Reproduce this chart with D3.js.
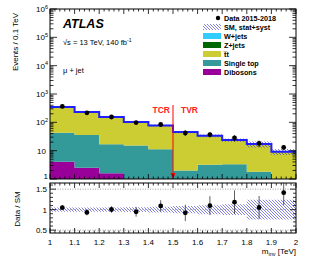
<!DOCTYPE html>
<html>
<head>
<meta charset="utf-8">
<script src="https://cdn.jsdelivr.net/npm/d3@7"></script>
<style>
  body { margin: 0; background: #fff; }
  text { font-family: "Liberation Sans", Arial, Helvetica, sans-serif; }
</style>
</head>
<body>
<div id="chart"></div>
<script>
// bin edges (TeV)
var binLow = [1.0, 1.1, 1.2, 1.3, 1.4, 1.5, 1.6, 1.7, 1.8, 1.9];
var binWidth = 0.1;

// backgrounds, stacked bottom -> top
var dibosons  = [4.1, 2.5, 1.6, 0.8, 0.6, 0.4, 0.4, 0.3, 0.2, 0.2];
var singleTop = [39, 33, 15.3, 14.4, 10.6, 1.6, 2.8, 3.0, 1.6, 0.6];
var ttbar     = [302, 194, 135, 87, 65, 43, 30, 20, 15, 8.2];
var zjets     = [1.0, 0.8, 0.5, 0.4, 0.3, 0.2, 0.2, 0.1, 0.1, 0.1];
var wjets     = [2.2, 1.6, 1.1, 0.8, 0.6, 0.4, 0.3, 0.3, 0.2, 0.1];

// data and uncertainties
var dataCounts = [365, 216, 154, 98, 84, 42, 37, 28, 18, 13];
var ratioErr   = [0.06, 0.07, 0.08, 0.12, 0.14, 0.2, 0.23, 0.29, 0.28, 0.3];
var smRelUnc   = [0.05, 0.05, 0.05, 0.06, 0.07, 0.09, 0.11, 0.13, 0.24, 0.24];

var xTicks = [1, 1.1, 1.2, 1.3, 1.4, 1.5, 1.6, 1.7, 1.8, 1.9, 2];
var yExps = [0, 1, 2, 3, 4, 5, 6];
var ratioTicks = [0.5, 1, 1.5];

var samples = [
    {name: "Dibosons", values: dibosons, color: "#990099"},
    {name: "Single top", values: singleTop, color: "#339999"},
    {name: "t\u0305t", values: ttbar, color: "#cccc33"},
    {name: "Z+jets", values: zjets, color: "#006600"},
    {name: "W+jets", values: wjets, color: "#33ccff"}
];

var W = 316, H = 260;
var left = 50, right = 296;
var mainTop = 9, mainBottom = 179;
var ratTop = 183, ratBottom = 233;
var font = "'Liberation Sans', Arial, Helvetica, sans-serif";

var svg = d3.select("#chart").append("svg")
    .attr("width", W).attr("height", H);

var defs = svg.append("defs");
var hatch = defs.append("pattern")
    .attr("id", "hatch")
    .attr("patternUnits", "userSpaceOnUse")
    .attr("width", 3).attr("height", 3);
hatch.append("path")
    .attr("d", "M-1,-1 L4,4 M-1,2 L1,4 M2,-1 L4,1")
    .attr("stroke", "#3333cc").attr("stroke-width", 0.6);

defs.append("clipPath").attr("id", "clipMain")
    .append("rect").attr("x", left).attr("y", mainTop)
    .attr("width", right - left).attr("height", mainBottom - mainTop);
defs.append("clipPath").attr("id", "clipRat")
    .append("rect").attr("x", left).attr("y", ratTop)
    .attr("width", right - left).attr("height", ratBottom - ratTop);

var x = d3.scaleLinear().domain([1, 2]).range([left, right]);
var y = d3.scaleLog().domain([1, 1e6]).range([mainBottom, mainTop]).clamp(true);
var yr = d3.scaleLinear().domain([0.43, 1.65]).range([ratBottom, ratTop]);

// build stack
var cum = binLow.map(function() { return 0; });
var stacked = samples.map(function(s) {
    var lo = cum.slice();
    cum = cum.map(function(c, i) { return c + s.values[i]; });
    return {sample: s, lo: lo, hi: cum.slice()};
});
var total = cum;

function stepArea(lo, hi, yScale) {
    var d = "";
    binLow.forEach(function(b, i) {
        var x0 = x(b), x1 = x(b + binWidth);
        var y0 = yScale(Math.max(lo[i], 1e-3)), y1 = yScale(Math.max(hi[i], 1e-3));
        d += "M" + x0 + "," + y0 + "H" + x1 + "V" + y1 + "H" + x0 + "Z";
    });
    return d;
}

var gMain = svg.append("g").attr("clip-path", "url(#clipMain)");

stacked.forEach(function(st) {
    gMain.append("path")
        .attr("d", stepArea(st.lo.map(function(v) { return Math.max(v, 0.01); }), st.hi, y))
        .attr("fill", st.sample.color)
        .attr("stroke", "none");
});

// SM band in main panel
gMain.append("path")
    .attr("d", stepArea(total.map(function(t, i) { return t * (1 - smRelUnc[i]); }),
                        total.map(function(t, i) { return t * (1 + smRelUnc[i]); }), y))
    .attr("fill", "url(#hatch)");

// total SM line
var totLine = "";
binLow.forEach(function(b, i) {
    totLine += (i === 0 ? "M" : "L") + x(b) + "," + y(total[i]) + "H" + x(b + binWidth);
});
gMain.append("path").attr("d", totLine)
    .attr("fill", "none").attr("stroke", "#1f1fff").attr("stroke-width", 2);

// data points
gMain.selectAll(".derr").data(binLow).enter().append("line")
    .attr("x1", function(b) { return x(b + binWidth / 2); })
    .attr("x2", function(b) { return x(b + binWidth / 2); })
    .attr("y1", function(b, i) { return y(dataCounts[i] * (1 - ratioErr[i] / (dataCounts[i] / total[i]))); })
    .attr("y2", function(b, i) { return y(dataCounts[i] * (1 + ratioErr[i] / (dataCounts[i] / total[i]))); })
    .attr("stroke", "#000").attr("stroke-width", 0.8);
gMain.selectAll(".dpt").data(binLow).enter().append("circle")
    .attr("cx", function(b) { return x(b + binWidth / 2); })
    .attr("cy", function(b, i) { return y(dataCounts[i]); })
    .attr("r", 2.4).attr("fill", "#000");

// TCR / TVR boundary
svg.append("line")
    .attr("x1", x(1.5)).attr("x2", x(1.5))
    .attr("y1", 105).attr("y2", mainBottom - 3)
    .attr("stroke", "#ff0000").attr("stroke-width", 1);
svg.append("path")
    .attr("d", "M" + (x(1.5) - 2.5) + "," + (mainBottom - 6) + "L" + (x(1.5) + 2.5) + "," + (mainBottom - 6) + "L" + x(1.5) + "," + mainBottom + "Z")
    .attr("fill", "#ff0000");
svg.append("text").attr("x", x(1.5) - 3).attr("y", 113)
    .attr("text-anchor", "end").attr("font-size", 8.5).attr("font-weight", "bold")
    .attr("fill", "#ff2020").text("TCR");
svg.append("text").attr("x", x(1.5) + 8).attr("y", 113)
    .attr("font-size", 8.5).attr("font-weight", "bold")
    .attr("fill", "#ff2020").text("TVR");

// ratio panel
var gRat = svg.append("g").attr("clip-path", "url(#clipRat)");
gRat.append("path")
    .attr("d", stepArea(smRelUnc.map(function(u) { return 1 - u; }),
                        smRelUnc.map(function(u) { return 1 + u; }), yr))
    .attr("fill", "url(#hatch)");
ratioTicks.forEach(function(t) {
    gRat.append("line").attr("x1", left).attr("x2", right)
        .attr("y1", yr(t)).attr("y2", yr(t))
        .attr("stroke", "#888").attr("stroke-width", 0.8)
        .attr("stroke-dasharray", "1,1.5");
});
var ratio = dataCounts.map(function(d, i) { return d / total[i]; });
gRat.selectAll(".rerr").data(binLow).enter().append("line")
    .attr("x1", function(b) { return x(b + binWidth / 2); })
    .attr("x2", function(b) { return x(b + binWidth / 2); })
    .attr("y1", function(b, i) { return yr(ratio[i] - ratioErr[i]); })
    .attr("y2", function(b, i) { return yr(ratio[i] + ratioErr[i]); })
    .attr("stroke", "#333").attr("stroke-width", 0.8);
gRat.selectAll(".rpt").data(binLow).enter().append("circle")
    .attr("cx", function(b) { return x(b + binWidth / 2); })
    .attr("cy", function(b, i) { return yr(ratio[i]); })
    .attr("r", 2.4).attr("fill", "#000");

// frames and ticks
function frame(top, bottom) {
    svg.append("rect").attr("x", left).attr("y", top)
        .attr("width", right - left).attr("height", bottom - top)
        .attr("fill", "none").attr("stroke", "#000").attr("stroke-width", 1);
}
frame(mainTop, mainBottom);
frame(ratTop, ratBottom);

var ticks = svg.append("g").attr("stroke", "#000").attr("stroke-width", 0.8);
function xTicksFor(top, bottom, maj, min) {
    d3.range(0, 51).forEach(function(k) {
        var v = 1 + k * 0.02;
        var len = (k % 5 === 0) ? maj : min;
        ticks.append("line").attr("x1", x(v)).attr("x2", x(v))
            .attr("y1", bottom).attr("y2", bottom - len);
        ticks.append("line").attr("x1", x(v)).attr("x2", x(v))
            .attr("y1", top).attr("y2", top + len);
    });
}
xTicksFor(mainTop, mainBottom, 5, 2.5);
xTicksFor(ratTop, ratBottom, 5, 2.5);

// log y ticks
yExps.forEach(function(e) {
    for (var m = 1; m <= 9; m++) {
        var v = m * Math.pow(10, e);
        if (v > 1e6) break;
        var len = (m === 1) ? 7 : 3.5;
        ticks.append("line").attr("x1", left).attr("x2", left + len)
            .attr("y1", y(v)).attr("y2", y(v));
        ticks.append("line").attr("x1", right).attr("x2", right - len)
            .attr("y1", y(v)).attr("y2", y(v));
    }
});
// ratio y ticks
d3.range(5, 17).forEach(function(k) {
    var v = k / 10;
    var len = (k % 5 === 0) ? 6 : 3;
    ticks.append("line").attr("x1", left).attr("x2", left + len)
        .attr("y1", yr(v)).attr("y2", yr(v));
    ticks.append("line").attr("x1", right).attr("x2", right - len)
        .attr("y1", yr(v)).attr("y2", yr(v));
});

// y labels main
yExps.forEach(function(e) {
    var yy = y(Math.pow(10, e)) + 3;
    if (e === 0) yy -= 3;
    var t = svg.append("text").attr("y", yy).attr("font-size", 8)
        .attr("text-anchor", "end");
    if (e === 0) { t.attr("x", 48).text("1"); }
    else if (e === 1) { t.attr("x", 46).text("10"); }
    else {
        t.attr("x", 48);
        t.append("tspan").text("10");
        t.append("tspan").attr("dy", -3.5).attr("font-size", 5.5).text(e);
    }
});
// ratio y labels
ratioTicks.forEach(function(t) {
    svg.append("text").attr("x", 47).attr("y", yr(t) + 3)
        .attr("font-size", 8).attr("text-anchor", "end")
        .text(t === 1 ? "1" : t);
});
// x labels
xTicks.forEach(function(t) {
    svg.append("text").attr("x", x(t)).attr("y", 245)
        .attr("font-size", 8).attr("text-anchor", "middle")
        .text(t === 1 || t === 2 ? t : t.toFixed(1));
});
var xt = svg.append("text").attr("x", right).attr("y", 254)
    .attr("font-size", 8).attr("text-anchor", "end");
xt.append("tspan").text("m");
xt.append("tspan").attr("dy", 1.8).attr("font-size", 5.5).text("inv");
xt.append("tspan").attr("dy", -1.8).text(" [TeV]");

// axis titles
svg.append("text").attr("transform", "translate(18,13) rotate(-90)")
    .attr("font-size", 8).attr("text-anchor", "end").text("Events / 0.1 TeV");
svg.append("text").attr("transform", "translate(20,209) rotate(-90)")
    .attr("font-size", 8).attr("text-anchor", "middle").text("Data / SM");

// labels
svg.append("text").attr("x", 63).attr("y", 28)
    .attr("font-size", 12.5).attr("font-weight", "bold").attr("font-style", "italic")
    .text("ATLAS");
var sq = svg.append("text").attr("x", 63).attr("y", 45).attr("font-size", 7.5);
sq.append("tspan").text("\u221As = 13 TeV, 140 fb");
sq.append("tspan").attr("dy", -3).attr("font-size", 5).text("-1");
svg.append("text").attr("x", 63).attr("y", 73).attr("font-size", 7.5)
    .text("\u03bc + jet");

// legend
var legItems = [
    {name: "Data 2015-2018", type: "data"},
    {name: "SM, stat+syst", type: "band"},
    {name: "W+jets", color: "#33ccff"},
    {name: "Z+jets", color: "#006600"},
    {name: "t\u0305t", color: "#cccc33"},
    {name: "Single top", color: "#339999"},
    {name: "Dibosons", color: "#990099"}
];
var leg = svg.append("g");
legItems.forEach(function(it, i) {
    var yy = 18 + i * 9;
    if (it.type === "data") {
        leg.append("circle").attr("cx", 218).attr("cy", yy).attr("r", 2.2).attr("fill", "#000");
    } else if (it.type === "band") {
        leg.append("rect").attr("x", 203).attr("y", yy - 3).attr("width", 18).attr("height", 6)
            .attr("fill", "url(#hatch)");
    } else {
        leg.append("rect").attr("x", 203).attr("y", yy - 3).attr("width", 18).attr("height", 6)
            .attr("fill", it.color);
    }
    leg.append("text").attr("x", 224).attr("y", yy + 2.6)
        .attr("font-size", 7.2).attr("font-weight", "bold").text(it.name);
});
</script>
</body>
</html>
